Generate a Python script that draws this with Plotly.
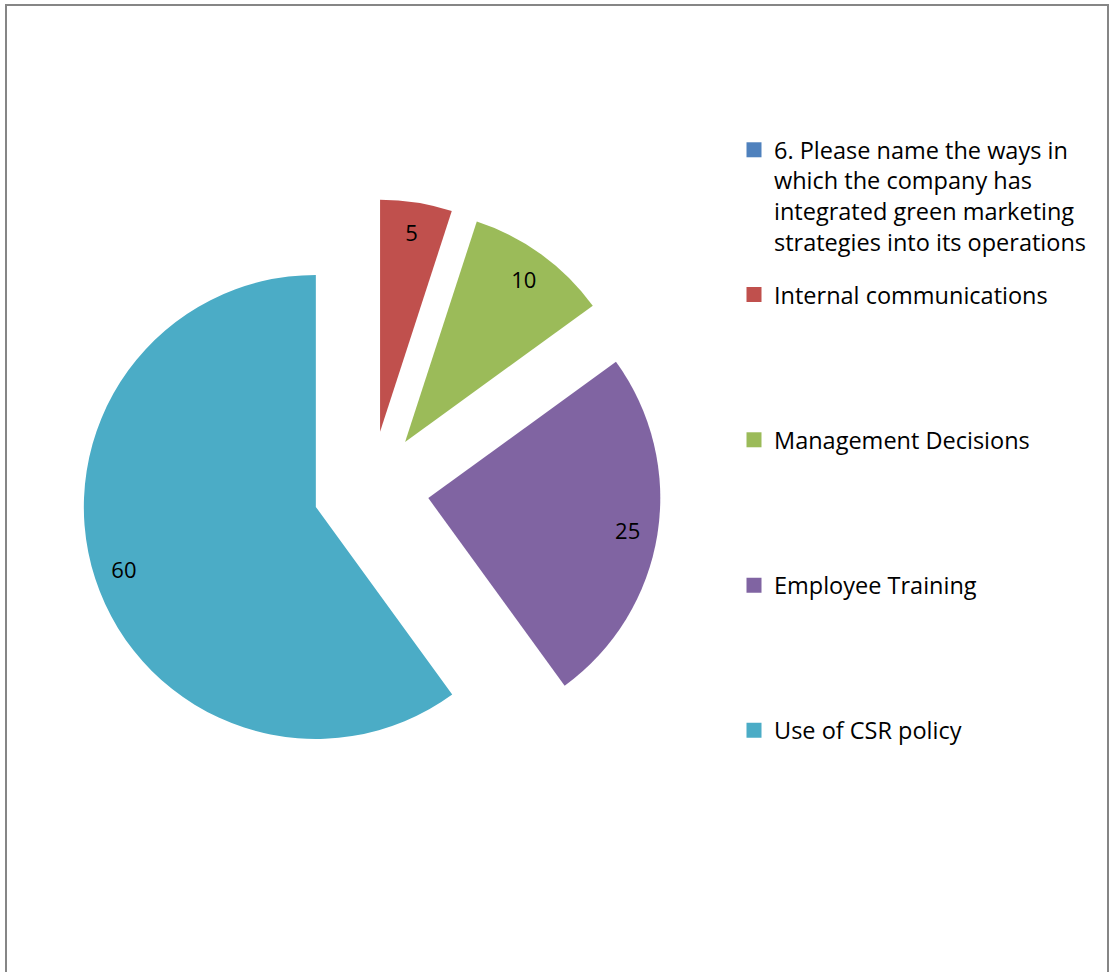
import plotly.graph_objects as go

# Survey responses: ways green marketing is integrated into operations
categories = [
    "6. Please name the ways in<br>which the company has<br>integrated green marketing<br>strategies into its operations",
    "Internal communications",
    "Management Decisions",
    "Employee Training",
    "Use of CSR policy",
]
values = [0, 5, 10, 25, 60]
colors = ["#4F81BD", "#C0504D", "#9BBB59", "#8064A2", "#4BACC6"]

FONT = "Open Sans"
W, H = 1112, 972

pie_domain = dict(x=[81 / W, 661 / W], y=[1 - 779 / H, 1 - 199 / H])
pulls = [0.25] * len(values)

fig = go.Figure()

# exploded pie, every slice pulled out
fig.add_trace(go.Pie(
    labels=categories, values=values, sort=False, direction="clockwise",
    rotation=0, pull=pulls, domain=pie_domain,
    marker=dict(colors=colors, line=dict(width=0)),
    textinfo="none", hoverinfo="skip", showlegend=False,
))

# transparent outer ring carrying the data labels near the rim
fig.add_trace(go.Pie(
    labels=categories, values=values, sort=False, direction="clockwise",
    rotation=0, pull=pulls, domain=pie_domain, hole=0.74,
    marker=dict(colors=["rgba(0,0,0,0)"] * len(values), line=dict(width=0)),
    texttemplate=["" if v == 0 else "%{value}" for v in values],
    textposition="inside", insidetextorientation="horizontal",
    textfont=dict(family=FONT, size=22, color="black"),
    hoverinfo="skip", showlegend=False,
))

# legend entries, one legend box per category
legend_names = ["legend", "legend2", "legend3", "legend4", "legend5"]
for name, label, color in zip(legend_names, categories, colors):
    fig.add_trace(go.Scatter(
        x=[None], y=[None], mode="markers", name=label, legend=name,
        marker=dict(symbol="square", size=15, color=color),
        hoverinfo="skip",
    ))

legend_x = 734 / W
common = dict(x=legend_x, xanchor="left", valign="top", bgcolor="rgba(0,0,0,0)",
              borderwidth=0, font=dict(family=FONT, size=23.5, color="black"),
              itemclick=False, itemdoubleclick=False)

layout_legends = {
    "legend": dict(common, y=1 - 128 / H, yanchor="top"),
    "legend2": dict(common, y=1 - 294.7 / H, yanchor="middle"),
    "legend3": dict(common, y=1 - 440 / H, yanchor="middle"),
    "legend4": dict(common, y=1 - 585.5 / H, yanchor="middle"),
    "legend5": dict(common, y=1 - 730.5 / H, yanchor="middle"),
}

fig.update_layout(
    width=W, height=H,
    margin=dict(l=0, r=0, t=0, b=0),
    paper_bgcolor="white", plot_bgcolor="white",
    font=dict(family=FONT, color="black"),
    xaxis=dict(visible=False), yaxis=dict(visible=False),
    shapes=[dict(type="rect", xref="paper", yref="paper",
                 x0=6 / W, x1=1108 / W, y0=-0.05, y1=1 - 5 / H,
                 line=dict(color="#868686", width=2), fillcolor="rgba(0,0,0,0)")],
    **layout_legends,
)

fig.write_html("out.html")
